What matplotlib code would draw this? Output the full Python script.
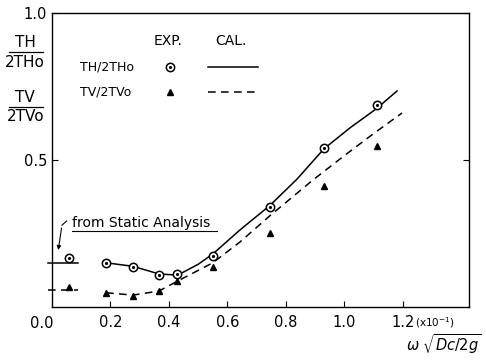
import numpy as np
import matplotlib
matplotlib.use('Agg')
import matplotlib.pyplot as plt

plt.rcParams['font.family'] = ['Liberation Sans Narrow', 'DejaVu Sans']
plt.rcParams['mathtext.fontset'] = 'dejavusans'

# experimental points (omega*sqrt(Dc/2g), x10^-1)
exp_x = [0.185, 0.277, 0.366, 0.427, 0.55, 0.745, 0.93, 1.11]
th_exp = [0.150, 0.136, 0.109, 0.112, 0.173, 0.340, 0.541, 0.687]
tv_exp = [0.048, 0.037, 0.054, 0.088, 0.136, 0.250, 0.410, 0.548]

# static analysis values
static_x = [0.057]
th_static_exp = [0.167]
tv_static_exp = [0.066]
th_static_cal = 0.150
tv_static_cal = 0.058
static_span = [-0.015, 0.09]

# calculated curves
cal_th_x = [0.185, 0.277, 0.366, 0.43, 0.50, 0.55, 0.643, 0.745, 0.838, 0.93, 1.02, 1.11, 1.18]
cal_th_y = [0.150, 0.138, 0.112, 0.108, 0.145, 0.180, 0.262, 0.345, 0.435, 0.538, 0.610, 0.675, 0.735]
cal_tv_x = [0.185, 0.277, 0.366, 0.43, 0.55, 0.643, 0.745, 0.89, 1.0, 1.1, 1.197]
cal_tv_y = [0.048, 0.040, 0.054, 0.088, 0.150, 0.221, 0.310, 0.430, 0.515, 0.590, 0.660]

xticks = [0.2, 0.4, 0.6, 0.8, 1.0, 1.2]
xticklabels = ['0.2', '0.4', '0.6', '0.8', '1.0', '1.2']

fig = plt.figure(figsize=(4.86, 3.64), dpi=100)
ax = fig.add_axes([0.107, 0.157, 0.858, 0.807])
ax.set_xlim(0, 1.426)
ax.set_ylim(0, 1.0)

lw = 1.1
ax.plot(cal_th_x, cal_th_y, '-', color='black', lw=lw)
ax.plot(cal_tv_x, cal_tv_y, '--', color='black', lw=lw, dashes=(5, 3.5))
ax.plot(static_span, [th_static_cal] * 2, '-', color='black', lw=lw, clip_on=False)
ax.plot(static_span, [tv_static_cal] * 2, '--', color='black', lw=lw, dashes=(5, 3.5), clip_on=False)

ax.plot(exp_x + static_x, th_exp + th_static_exp, 'o', ms=6, mfc='white', mec='black', mew=1.1)
ax.plot(exp_x + static_x, th_exp + th_static_exp, '.', ms=2.5, color='black')
ax.plot(exp_x + static_x, tv_exp + tv_static_exp, '^', ms=5, color='black')

# annotation
ax.text(0.068, 0.262, 'from Static Analysis', fontsize=10, va='bottom', ha='left')
ax.plot([0.068, 0.565], [0.258, 0.258], color='black', lw=0.8)
ax.annotate('', xy=(0.02, 0.184), xytext=(0.034, 0.278),
            arrowprops=dict(arrowstyle='-|>', color='black', lw=0.8, mutation_scale=6))
ax.plot([0.034, 0.05], [0.278, 0.292], color='black', lw=0.8)

# legend drawn by hand
tr = ax.transAxes
ax.text(0.278, 0.905, 'EXP.', transform=tr, ha='center', va='center', fontsize=10)
ax.text(0.43, 0.905, 'CAL.', transform=tr, ha='center', va='center', fontsize=10)
ax.text(0.067, 0.816, 'TH/2THo', transform=tr, ha='left', va='center', fontsize=9)
ax.text(0.067, 0.731, 'TV/2TVo', transform=tr, ha='left', va='center', fontsize=9)
ax.plot([0.283], [0.816], 'o', ms=6, mfc='white', mec='black', mew=1.1, transform=tr)
ax.plot([0.283], [0.816], '.', ms=2.5, color='black', transform=tr)
ax.plot([0.283], [0.731], '^', ms=5, color='black', transform=tr)
ax.plot([0.374, 0.494], [0.816, 0.816], '-', color='black', lw=lw, transform=tr)
ax.plot([0.374, 0.494], [0.731, 0.731], '--', color='black', lw=lw, dashes=(5, 3.5), transform=tr)

# ticks
ax.set_xticks(xticks)
ax.set_xticklabels(xticklabels, fontsize=10.5)
ax.set_yticks([0.5, 1.0])
ax.set_yticklabels(['0.5', '1.0'], fontsize=10.5)
ax.tick_params(direction='in', length=4, width=0.8, right=True, top=False)
ax.tick_params(axis='x', pad=6)
for s in ax.spines.values():
    s.set_linewidth(1.0)
ax.text(-0.035, -0.055, '0.0', ha='center', va='center', fontsize=10.5)
ax.text(1.24, -0.055, '(x10$^{-1}$)', ha='left', va='center', fontsize=7.5)

fig.text(0.99, 0.088, r'$\omega\ \sqrt{Dc/2g}$', ha='right', va='top', fontsize=10.5)

# y-axis fraction labels
def frac(num, den, ytop):
    fig.text(0.052, ytop, num, ha='center', va='bottom', fontsize=11)
    fig.add_artist(plt.Line2D([0.018, 0.088], [ytop - 0.005] * 2, color='black', lw=0.9,
                              transform=fig.transFigure))
    fig.text(0.052, ytop - 0.012, den, ha='center', va='top', fontsize=11)

frac('TH', '2THo', 0.862)
frac('TV', '2TVo', 0.712)

fig.savefig('out.png', dpi=100)
